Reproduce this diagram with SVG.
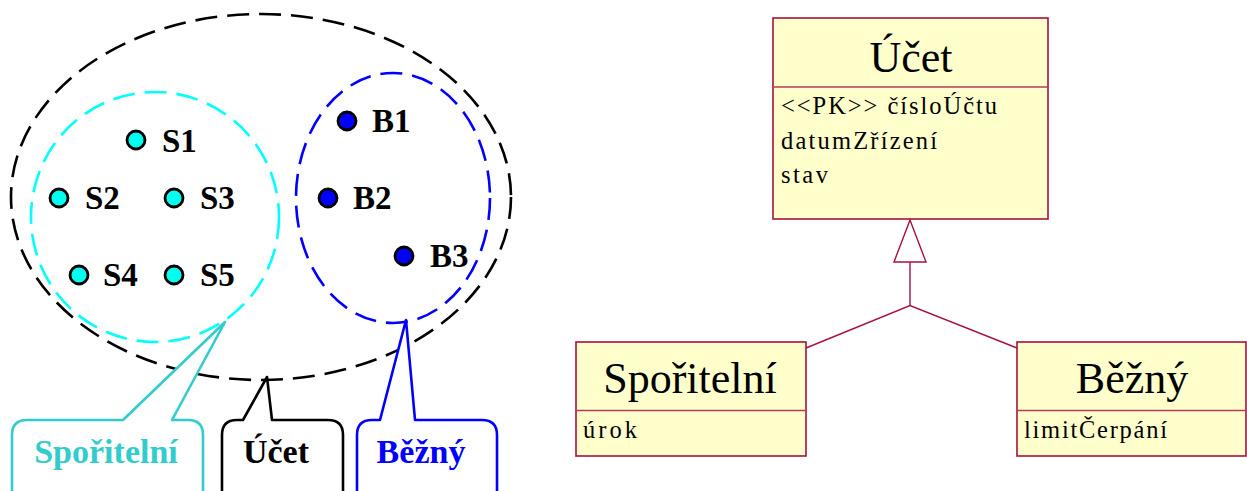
<svg xmlns="http://www.w3.org/2000/svg" width="1247" height="491" viewBox="0 0 1247 491">
<style>
.dash{fill:none;stroke-width:2.6;stroke-dasharray:22 10}
.dot{stroke:#000;stroke-width:2.8}
.lbl{font-family:"Liberation Serif",serif;font-weight:bold;font-size:33px;fill:#000}
.co{fill:#fff;stroke-width:2.6;stroke-linejoin:round}
.cot{font-family:"Liberation Serif",serif;font-weight:bold;font-size:34px;text-anchor:middle}
.cls{fill:#FFFFCC;stroke:#A8103F;stroke-width:1.6}
.sep{stroke:#B83A5A;stroke-width:1.4}
.title{font-family:"Liberation Serif",serif;font-size:44px;fill:#000;text-anchor:middle}
.attr{font-family:"Liberation Serif",serif;font-size:24.5px;fill:#000}
.gen{fill:none;stroke:#A8103F;stroke-width:1.4}
</style>

<g id="set-ucet">
<ellipse class="dash" cx="261" cy="197" rx="250" ry="183" stroke="#000"/>
</g>
<g id="set-sporitelni">
<ellipse class="dash" cx="155" cy="217" rx="124" ry="125" stroke="#00FFFF"/>
</g>
<g id="set-bezny">
<ellipse class="dash" cx="393" cy="198" rx="97" ry="125" stroke="#0000FF"/>
</g>

<g id="S1"><circle class="dot" cx="136" cy="140" r="9" fill="#00FFEE"/><text class="lbl" x="162" y="152">S1</text></g>
<g id="S2"><circle class="dot" cx="59" cy="198" r="9" fill="#00FFEE"/><text class="lbl" x="85" y="209">S2</text></g>
<g id="S3"><circle class="dot" cx="174" cy="198" r="9" fill="#00FFEE"/><text class="lbl" x="200" y="209">S3</text></g>
<g id="S4"><circle class="dot" cx="79" cy="275" r="9" fill="#00FFEE"/><text class="lbl" x="103" y="286">S4</text></g>
<g id="S5"><circle class="dot" cx="174" cy="275" r="9" fill="#00FFEE"/><text class="lbl" x="200" y="286">S5</text></g>
<g id="B1"><circle class="dot" cx="347" cy="121" r="9" fill="#0000FF"/><text class="lbl" x="372" y="132">B1</text></g>
<g id="B2"><circle class="dot" cx="328" cy="198" r="9" fill="#0000FF"/><text class="lbl" x="353" y="209">B2</text></g>
<g id="B3"><circle class="dot" cx="404" cy="256" r="9" fill="#0000FF"/><text class="lbl" x="430" y="267">B3</text></g>

<g id="callout-sporitelni">
<path class="co" stroke="#33CCCC" d="M12 500 V435 Q12 420 27 420 H123 L225 322 L172 420 H188 Q203 420 203 435 V500"/>
<text class="cot" x="106" y="463" fill="#33CCCC">Spořitelní</text>
</g>
<g id="callout-ucet">
<path class="co" stroke="#000" d="M222 500 V435 Q222 420 237 420 H243 L267 377 L272 420 H328 Q343 420 343 435 V500"/>
<text class="cot" x="276" y="463" fill="#000">Účet</text>
</g>
<g id="callout-bezny">
<path class="co" stroke="#0000FF" d="M357 500 V435 Q357 420 372 420 H380 L406 320 L415 420 H482 Q497 420 497 435 V500"/>
<text class="cot" x="421" y="463" fill="#0000FF">Běžný</text>
</g>

<g id="class-ucet">
<rect class="cls" x="773" y="18" width="275" height="201"/>
<line class="sep" x1="773" y1="87" x2="1048" y2="87"/>
<text class="title" x="911" y="72">Účet</text>
<text class="attr" x="781" y="114" textLength="216" lengthAdjust="spacing">&lt;&lt;PK&gt;&gt; čísloÚčtu</text>
<text class="attr" x="781" y="149" textLength="156" lengthAdjust="spacing">datumZřízení</text>
<text class="attr" x="781" y="183" textLength="47" lengthAdjust="spacing">stav</text>
</g>

<g id="class-sporitelni">
<rect class="cls" x="576" y="342" width="230" height="114"/>
<line class="sep" x1="576" y1="410.5" x2="806" y2="410.5"/>
<text class="title" x="690" y="393">Spořitelní</text>
<text class="attr" x="583" y="438" textLength="54" lengthAdjust="spacing">úrok</text>
</g>

<g id="class-bezny">
<rect class="cls" x="1017" y="342" width="229" height="114"/>
<line class="sep" x1="1017" y1="410.5" x2="1246" y2="410.5"/>
<text class="title" x="1132" y="393">Běžný</text>
<text class="attr" x="1024" y="438" textLength="143" lengthAdjust="spacing">limitČerpání</text>
</g>

<g id="connectors">
<polygon points="910,220 926,262 894,262" fill="#fff" stroke="#A8103F" stroke-width="1.4"/>
<polyline class="gen" points="910,262 910,305.5"/>
<polyline class="gen" points="806,348 910,305.5 1017,348"/>
</g>
</svg>
